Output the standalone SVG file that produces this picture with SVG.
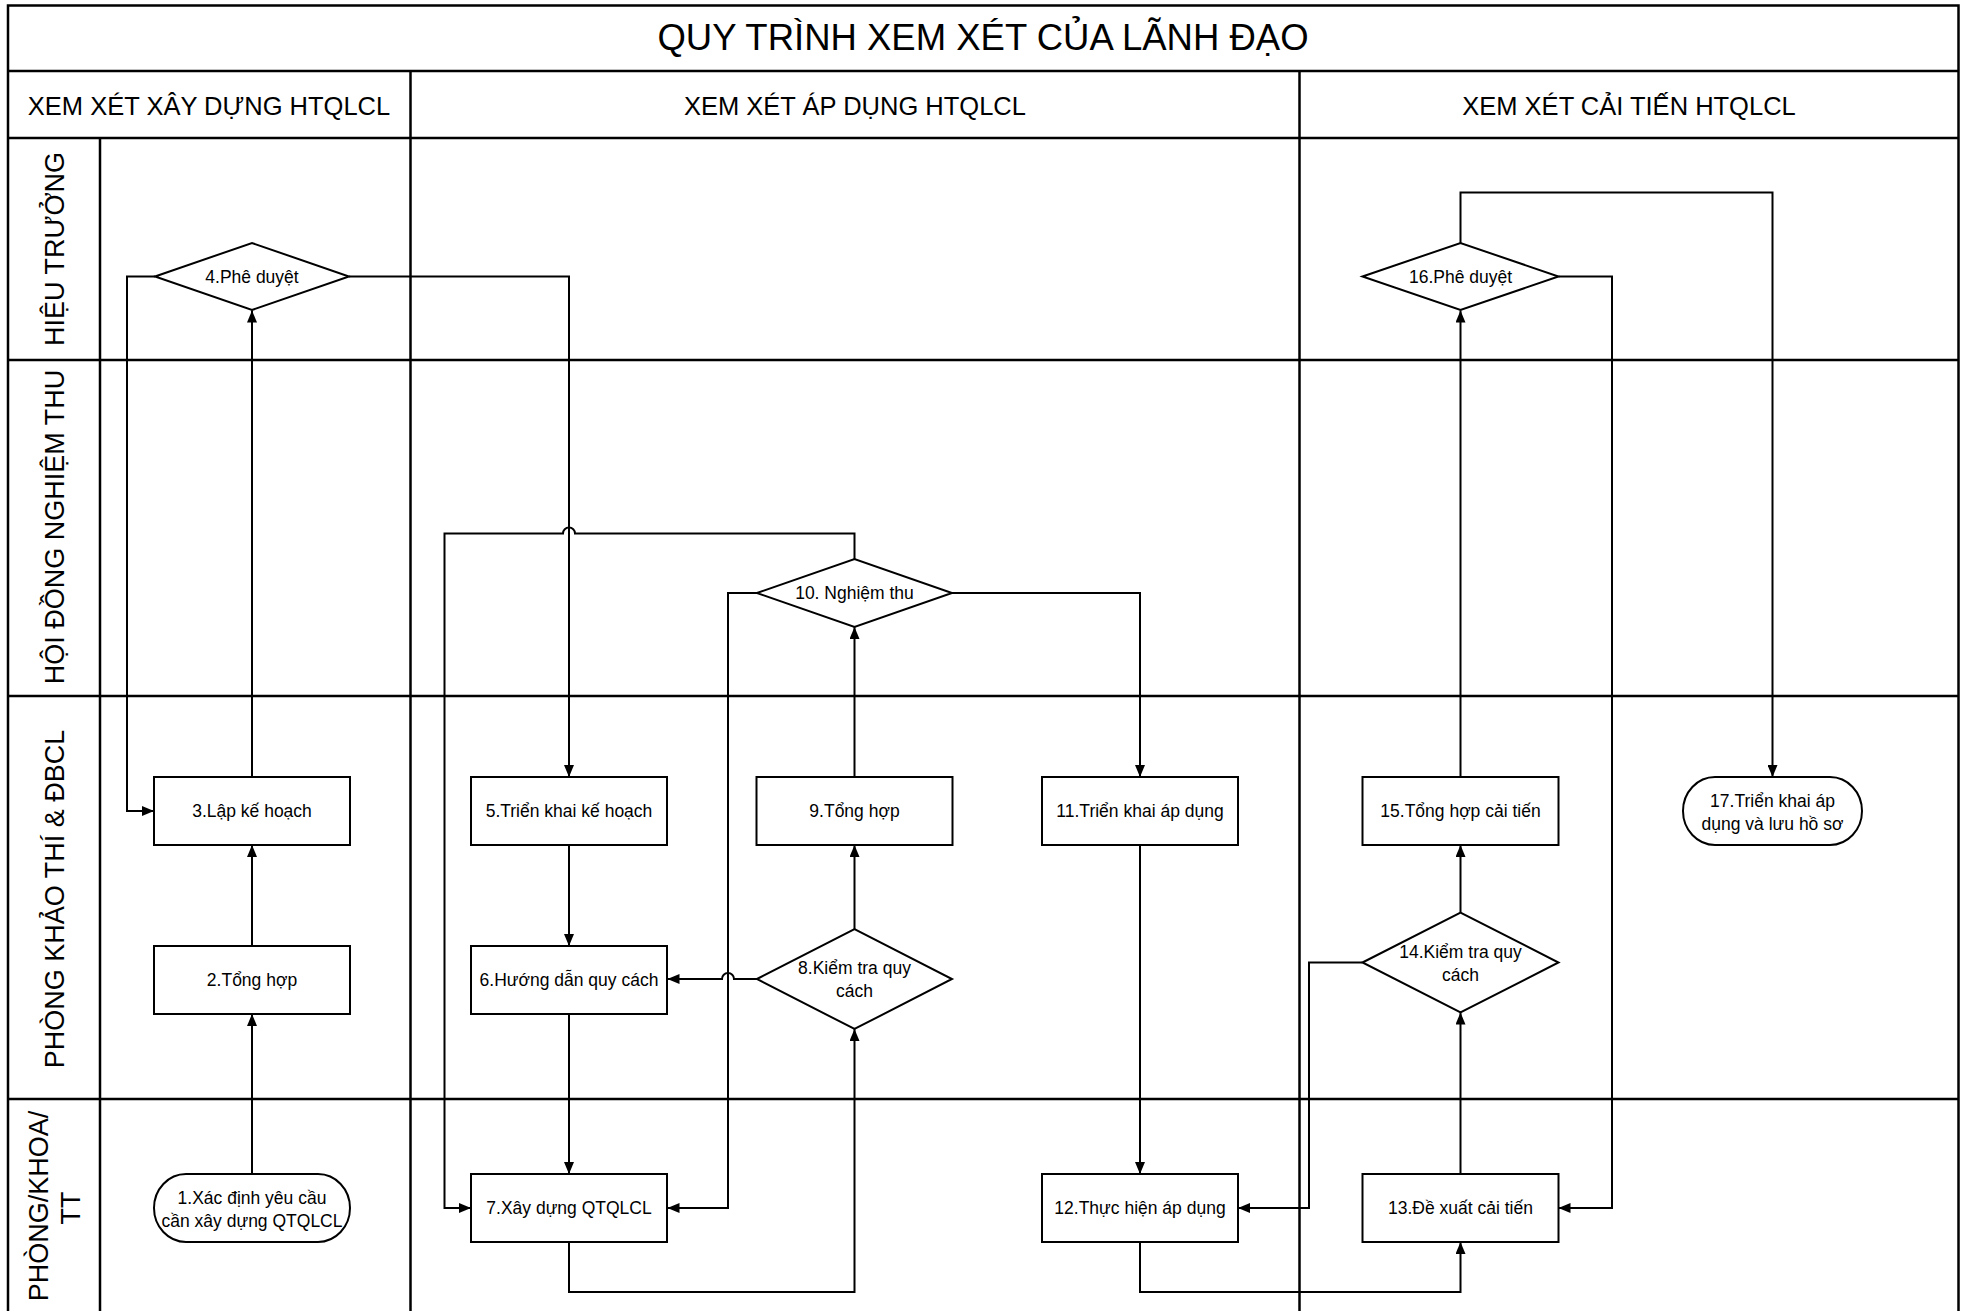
<svg xmlns="http://www.w3.org/2000/svg" width="1963" height="1311" viewBox="0 0 1963 1311">
<defs>
<style>
.frame{fill:none;stroke:#000;stroke-width:2.5}
.shape{fill:#fff;stroke:#000;stroke-width:2}
.conn{fill:none;stroke:#000;stroke-width:2}
.title{font-family:"Liberation Sans",Arial,sans-serif;font-size:36.5px;text-anchor:middle;fill:#000}
.head{font-family:"Liberation Sans",Arial,sans-serif;font-size:25.5px;text-anchor:middle;fill:#000}
.lane{font-family:"Liberation Sans",Arial,sans-serif;font-size:27px;text-anchor:middle;fill:#000}
.lbl{font-family:"Liberation Sans",Arial,sans-serif;font-size:17.5px;text-anchor:middle;fill:#000}
</style>
<marker id="arr" viewBox="0 0 12 10" refX="12" refY="5" markerWidth="12" markerHeight="10" markerUnits="userSpaceOnUse" orient="auto">
<path d="M0,0 L12,5 L0,10 z" fill="#000"/>
</marker>
</defs>
<rect x="0" y="0" width="1963" height="1311" fill="#fff"/>

<g id="frame">
<rect class="frame" x="8" y="5.5" width="1950.5" height="1340"/>
<line class="frame" x1="8" y1="71" x2="1958.5" y2="71"/>
<line class="frame" x1="8" y1="138" x2="1958.5" y2="138"/>
<line class="frame" x1="8" y1="360" x2="1958.5" y2="360"/>
<line class="frame" x1="8" y1="696" x2="1958.5" y2="696"/>
<line class="frame" x1="8" y1="1099" x2="1958.5" y2="1099"/>
<line class="frame" x1="410.5" y1="71" x2="410.5" y2="1345"/>
<line class="frame" x1="1299.5" y1="71" x2="1299.5" y2="1345"/>
<line class="frame" x1="100" y1="138" x2="100" y2="1345"/>
<text class="title" x="983" y="50">QUY TRÌNH XEM XÉT CỦA LÃNH ĐẠO</text>
<text class="head" x="209" y="115">XEM XÉT XÂY DỰNG HTQLCL</text>
<text class="head" x="855" y="115">XEM XÉT ÁP DỤNG HTQLCL</text>
<text class="head" x="1629" y="115">XEM XÉT CẢI TIẾN HTQLCL</text>
<text class="lane" transform="translate(64,249) rotate(-90)">HIỆU TRƯỞNG</text>
<text class="lane" transform="translate(64,527) rotate(-90)">HỘI ĐỒNG NGHIỆM THU</text>
<text class="lane" transform="translate(64,899) rotate(-90)">PHÒNG KHẢO THÍ &amp; ĐBCL</text>
<text class="lane" transform="translate(48,1206) rotate(-90)">PHÒNG/KHOA/</text>
<text class="lane" transform="translate(80,1208) rotate(-90)">TT</text>
</g>

<g id="connectors">
<path class="conn" marker-end="url(#arr)" d="M252,1174 V1014"/>
<path class="conn" marker-end="url(#arr)" d="M252,946 V845"/>
<path class="conn" marker-end="url(#arr)" d="M252,777 V310.5"/>
<path class="conn" marker-end="url(#arr)" d="M155,276.5 H127 V811 H154"/>
<path class="conn" marker-end="url(#arr)" d="M349,276.5 H569 V777"/>
<path class="conn" marker-end="url(#arr)" d="M569,845 V946"/>
<path class="conn" marker-end="url(#arr)" d="M569,1014 V1174"/>
<path class="conn" marker-end="url(#arr)" d="M569,1242 V1292 H854.5 V1029"/>
<path class="conn" marker-end="url(#arr)" d="M757,979 H734 a6,6 0 0 0 -12,0 H667.5"/>
<path class="conn" marker-end="url(#arr)" d="M854.5,929 V845"/>
<path class="conn" marker-end="url(#arr)" d="M854.5,777 V627"/>
<path class="conn" marker-end="url(#arr)" d="M757,593 H728 V1208 H667.5"/>
<path class="conn" marker-end="url(#arr)" d="M854.5,559 V533.5 H575 a6,6 0 0 0 -12,0 H444.5 V1208 H471"/>
<path class="conn" marker-end="url(#arr)" d="M952,593 H1140 V777"/>
<path class="conn" marker-end="url(#arr)" d="M1140,845 V1174"/>
<path class="conn" marker-end="url(#arr)" d="M1140,1242 V1292 H1460.5 V1242"/>
<path class="conn" marker-end="url(#arr)" d="M1460.5,1174 V1012.5"/>
<path class="conn" marker-end="url(#arr)" d="M1362.5,962.5 H1309 V1208 H1238"/>
<path class="conn" marker-end="url(#arr)" d="M1460.5,912.5 V845"/>
<path class="conn" marker-end="url(#arr)" d="M1460.5,777 V310.5"/>
<path class="conn" marker-end="url(#arr)" d="M1558.5,276.5 H1612 V1208 H1558.5"/>
<path class="conn" marker-end="url(#arr)" d="M1460.5,243 V192.5 H1772.5 V777"/>
</g>

<g id="n1"><rect class="shape" x="154" y="1174" width="196" height="68" rx="32" ry="34"/>
<text class="lbl" x="252" y="1204">1.Xác định yêu cầu</text><text class="lbl" x="252" y="1227">cần xây dựng QTQLCL</text></g>
<g id="n2"><rect class="shape" x="154" y="946" width="196" height="68"/><text class="lbl" x="252" y="986">2.Tổng hợp</text></g>
<g id="n3"><rect class="shape" x="154" y="777" width="196" height="68"/><text class="lbl" x="252" y="817">3.Lập kế hoạch</text></g>
<g id="n4"><polygon class="shape" points="155,276.5 252,243 349,276.5 252,310"/><text class="lbl" x="252" y="283">4.Phê duyệt</text></g>
<g id="n5"><rect class="shape" x="471" y="777" width="196" height="68"/><text class="lbl" x="569" y="817">5.Triển khai kế hoạch</text></g>
<g id="n6"><rect class="shape" x="471" y="946" width="196" height="68"/><text class="lbl" x="569" y="986">6.Hướng dẫn quy cách</text></g>
<g id="n7"><rect class="shape" x="471" y="1174" width="196" height="68"/><text class="lbl" x="569" y="1214">7.Xây dựng QTQLCL</text></g>
<g id="n8"><polygon class="shape" points="757,979 854.5,929 952,979 854.5,1029"/>
<text class="lbl" x="854.5" y="974">8.Kiểm tra quy</text><text class="lbl" x="854.5" y="997">cách</text></g>
<g id="n9"><rect class="shape" x="756.5" y="777" width="196" height="68"/><text class="lbl" x="854.5" y="817">9.Tổng hợp</text></g>
<g id="n10"><polygon class="shape" points="757,593 854.5,559 952,593 854.5,627"/><text class="lbl" x="854.5" y="599">10. Nghiệm thu</text></g>
<g id="n11"><rect class="shape" x="1042" y="777" width="196" height="68"/><text class="lbl" x="1140" y="817">11.Triển khai áp dụng</text></g>
<g id="n12"><rect class="shape" x="1042" y="1174" width="196" height="68"/><text class="lbl" x="1140" y="1214">12.Thực hiện áp dụng</text></g>
<g id="n13"><rect class="shape" x="1362.5" y="1174" width="196" height="68"/><text class="lbl" x="1460.5" y="1214">13.Đề xuất cải tiến</text></g>
<g id="n14"><polygon class="shape" points="1362.5,962.5 1460.5,912.5 1558.5,962.5 1460.5,1012.5"/>
<text class="lbl" x="1460.5" y="958">14.Kiểm tra quy</text><text class="lbl" x="1460.5" y="981">cách</text></g>
<g id="n15"><rect class="shape" x="1362.5" y="777" width="196" height="68"/><text class="lbl" x="1460.5" y="817">15.Tổng hợp cải tiến</text></g>
<g id="n16"><polygon class="shape" points="1362.5,276.5 1460.5,243 1558.5,276.5 1460.5,310"/><text class="lbl" x="1460.5" y="283">16.Phê duyệt</text></g>
<g id="n17"><rect class="shape" x="1683" y="777" width="179" height="68" rx="32" ry="34"/>
<text class="lbl" x="1772.5" y="807">17.Triển khai áp</text><text class="lbl" x="1772.5" y="830">dụng và lưu hồ sơ</text></g>
</svg>
